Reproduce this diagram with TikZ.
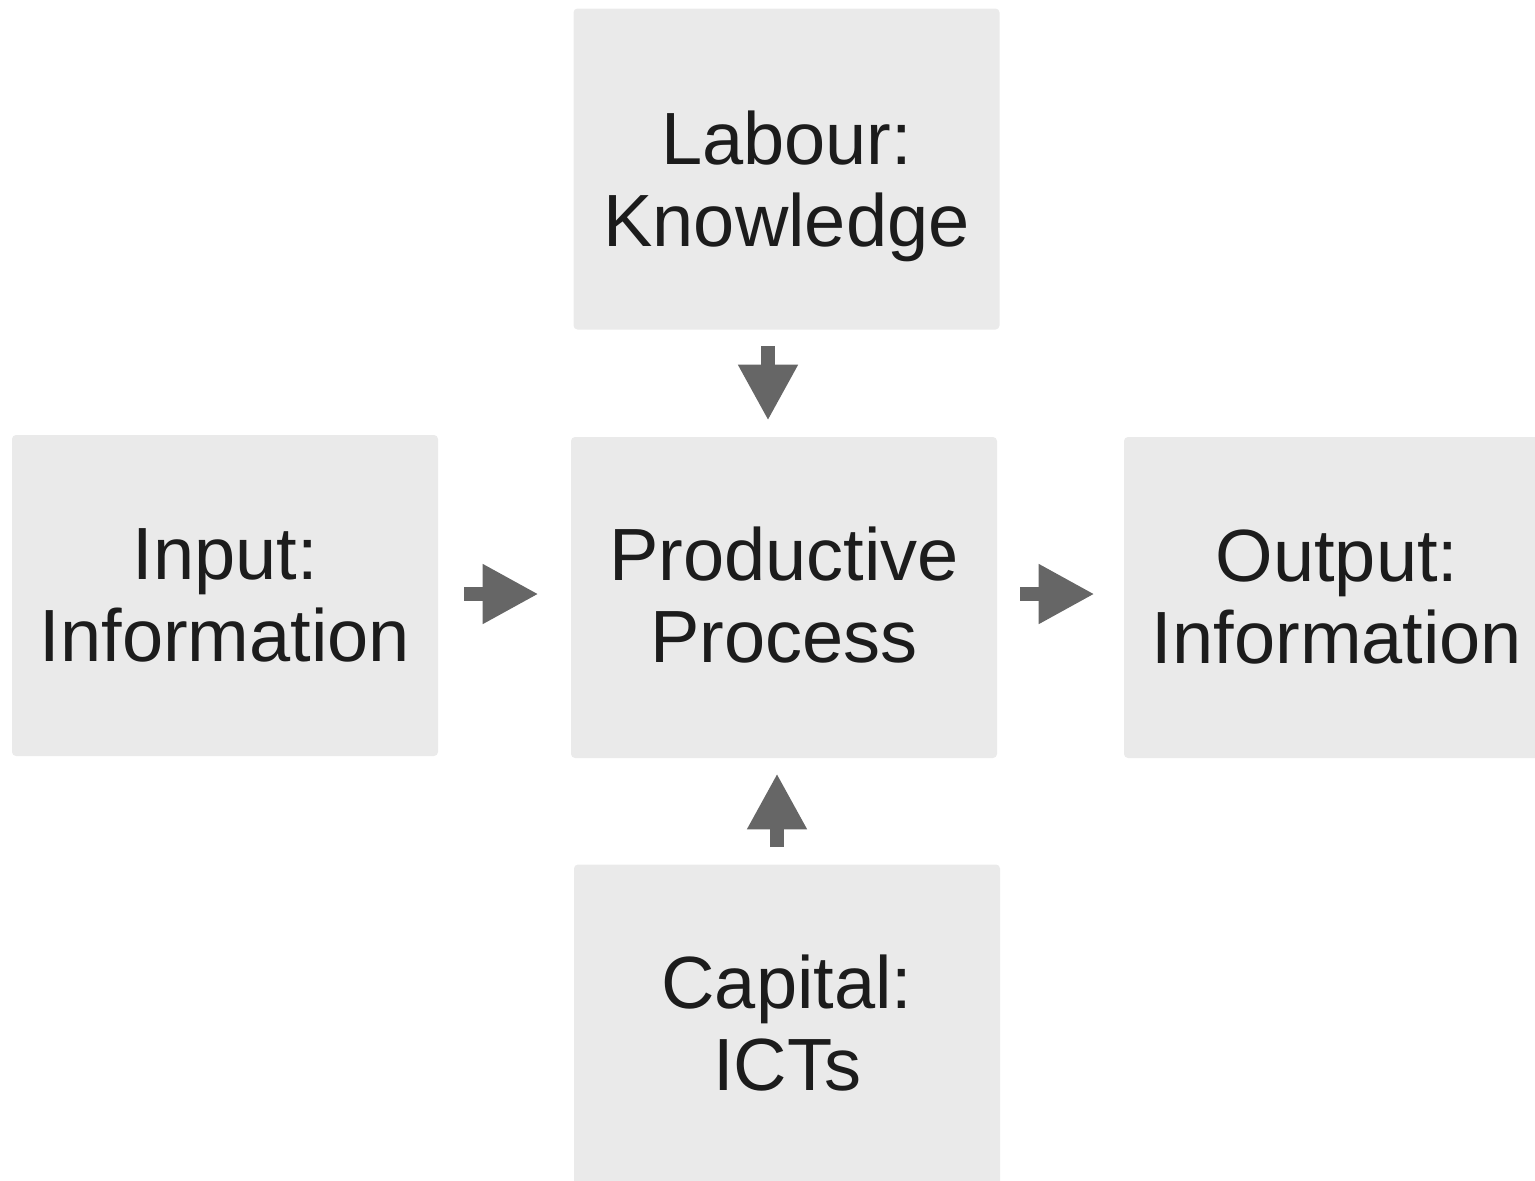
\documentclass[tikz,border=0pt]{standalone}
\usepackage{fontspec}
\setmainfont{Liberation Sans}
\usetikzlibrary{arrows.meta,positioning}
\definecolor{boxgray}{HTML}{EAEAEA}
\definecolor{arrowgray}{HTML}{666666}
\definecolor{textgray}{HTML}{1C1C1C}
\tikzset{factor/.style={fill=boxgray,rounded corners=2pt,minimum width=213pt,minimum height=160.5pt,align=center,text=textgray,
    font=\fontsize{37}{41}\selectfont,execute at begin node=\setlength{\baselineskip}{41pt}},
  flow/.style={arrowgray,line width=7pt,-{Stealth[length=28pt,width=28pt,inset=0pt]}}}

\begin{document}
\begin{tikzpicture}[x=0.5pt,y=-0.5pt]
		\useasboundingbox (0,0) rectangle (1535,1180);
		\begin{scope}
		\clip (0,0) rectangle (1535,1180);
		\node[factor,text height=77.5pt,text depth=0pt] (labour) at (786.5,169) {Labour:\\Knowledge};
		\node[factor] (input) at (225,595.5) {Input:\\Information};
		\node[factor,text depth=3pt] (prod) at (784,597.5) {Productive\\Process};
		\node[factor] (output) at (1337,597.5) {Output:\\Information};
		\node[factor,text depth=2pt] (capital) at (787,1025) {Capital:\\ICTs};
		\end{scope}
		\draw[flow] ([xshift=-9.25pt,yshift=-8pt]labour.south) -- ([xshift=-8pt,yshift=8pt]prod.north);
		\draw[flow] ([xshift=-5pt,yshift=8.5pt]capital.north) -- ([xshift=-3.5pt,yshift=-7.5pt]prod.south);
		\draw[flow,shorten <=13pt,shorten >=16pt] ([yshift=0.75pt]input.east) -- ([yshift=1.75pt]prod.west);
		\draw[flow,shorten <=11.5pt,shorten >=14.5pt] ([yshift=1.75pt]prod.east) -- ([yshift=1.75pt]output.west);
\end{tikzpicture}
\end{document}
